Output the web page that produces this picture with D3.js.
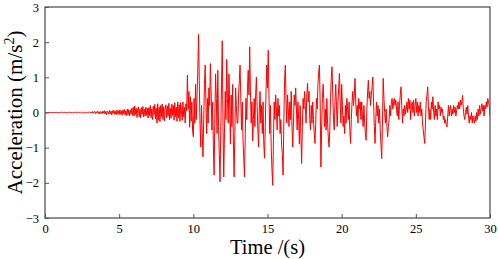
<!DOCTYPE html>
<html>
<head>
<meta charset="utf-8">
<script src="https://cdn.jsdelivr.net/npm/d3@7/dist/d3.min.js"></script>
<style>
  html, body { margin: 0; padding: 0; background: #fff; }
  svg { display: block; }
</style>
</head>
<body>
<svg id="chart" width="498" height="259"></svg>
<script>
// ---- data ----
const timeStep = 0.05;           // s between samples
const timeStart = 0;
const xTicks = [0, 5, 10, 15, 20, 25, 30];
const yTicks = [-3, -2, -1, 0, 1, 2, 3];
const xTitle = "Time /(s)";
const yTitle = "Acceleration (m/s";
const yTitleSup = "2";
// acceleration (m/s^2), one row per second (20 samples each)
const acceleration = [
  0,0,0,0,0,0,0,0,0,0,0,0,0,0,0,0,0,0,0,0,
  0,0,0.01,0,-0.01,0,0,0.01,0,0,-0.01,0,0,0.01,0,0,0,-0.01,0,0,
  0,0.01,0,-0.01,0,0.01,0,0,-0.01,0.01,0,0,-0.01,0,0.01,0,-0.01,0,0.01,0,
  0.02,-0.01,0.01,-0.02,0.03,-0.02,0.01,0.03,-0.03,0.02,-0.01,0.04,-0.03,0.02,-0.04,0.03,0.01,-0.03,0.04,-0.02,
  0.05,-0.04,0.03,-0.06,0.04,0.02,-0.05,0.06,-0.03,0.04,-0.07,0.05,-0.02,0.06,-0.05,0.03,-0.06,0.07,-0.04,0.05,
  -0.06,0.08,-0.05,0.04,-0.08,0.07,-0.03,0.09,-0.07,0.05,-0.09,0.1,-0.06,0.08,-0.1,0.06,-0.04,0.12,-0.08,0.15,
  -0.1,0.18,-0.06,0.12,-0.14,0.08,0.16,-0.12,0.1,-0.15,0.14,-0.05,0.17,-0.13,0.09,-0.1,0.15,-0.08,0.12,-0.16,
  0.14,-0.09,0.2,-0.15,0.1,-0.2,0.18,-0.06,0.23,-0.18,0.12,-0.3,0.25,-0.22,0.15,-0.26,0.2,-0.12,0.24,-0.2,
  0.16,-0.24,0.1,0.22,-0.15,0.18,-0.1,0.26,-0.2,0.12,-0.16,0.24,-0.08,0.2,-0.22,0.28,-0.12,0.15,-0.25,0.3,
  -0.15,0.22,-0.25,0.28,0.02,-0.22,0.3,-0.12,0.15,-0.3,0.25,0.05,1.06,0.1,0.6,-0.42,0.45,-0.25,0.3,-0.5,
  -0.69,0.4,-0.3,0.8,-0.2,0.5,1.2,2.22,0.9,-0.3,-0.98,0.2,-0.6,-1.26,-0.2,0.8,1.35,0.3,-0.6,0.4,
  -0.3,0.7,0.2,1.39,0.6,-0.5,0.3,-0.9,-1.78,-0.2,1.1,0.4,-0.6,1.2,-0.4,-1.2,-1.97,-0.5,0.8,2.04,
  -0.4,-1.83,-0.6,0.6,-0.2,1.51,0.4,-0.3,1.1,0.2,-0.9,0.5,-0.4,0.8,-0.8,-1.83,-0.6,0.7,0.2,-0.3,
  -0.3,0.5,0.9,1.35,0.4,-0.5,0.3,-0.8,-1.3,-1.83,-0.6,0.4,-0.2,0.7,1.2,0.5,1.87,0.6,-0.3,0.3,
  -0.8,-0.2,0.4,-0.4,0.5,1.01,0.2,-0.5,-0.98,0.1,0.6,-0.3,0.2,-0.6,0.3,-0.9,-1.3,-0.4,0.6,1.35,
  0.7,1.77,0.5,-0.6,0.2,-1.0,-1.6,-2.07,-0.8,0.3,-0.2,0.5,0.1,-0.5,0.4,-0.1,0.2,-0.6,-0.2,-0.9,
  -1.2,-1.78,-0.3,0.9,1.35,0.4,-0.3,0.5,0.1,-0.4,0.3,-0.2,0.6,-0.4,-0.98,-0.3,0.5,0.2,0.7,0.1,
  -0.5,0.3,-0.2,-0.9,0.2,-0.6,-1.45,-0.4,0.4,0.1,0.6,0.2,-0.3,0.5,0.83,0.3,0.6,-0.2,-0.5,0.2,
  -0.3,0.3,-0.2,-0.6,-0.88,-0.3,0.4,0.1,0.8,1.15,1.35,0.3,-1.55,-0.5,0.4,0.8,0.3,-0.4,0.1,-0.5,
  0.4,-0.3,-0.7,-0.98,-0.5,0.4,1.0,1.3,0.5,-0.2,-0.5,0.3,0.8,0.2,-0.4,0.3,0.7,1.11,0.3,-0.3,
  0.8,0.2,-0.4,-0.1,-0.6,0.2,-0.3,0.4,0.1,-0.2,0.3,-0.5,-0.88,-0.2,0.3,0.6,0.2,0.5,0.97,0.3,
  -0.1,0.2,-0.3,0.4,0.1,0.3,-0.2,0.3,-0.1,-0.4,0.2,-0.3,-0.6,-0.79,0.1,0.6,0.92,0.4,0.6,0.2,
  0.5,0.7,1.01,0.3,-0.4,-0.88,-0.2,0.3,-0.1,0.2,-0.3,0.1,-0.5,-0.9,-1.31,-0.3,0.97,0.4,0.0,-0.3,
  0.1,-0.4,-0.69,-0.4,-0.2,0.2,-0.1,0.3,0.4,0.1,0.3,0.4,0.2,0.35,0.1,-0.1,0.3,-0.2,0.2,0.5,
  0.73,0.2,-0.3,0.1,-0.1,0.2,-0.05,0.1,0.3,0.0,0.4,0.1,0.35,-0.2,0.2,0.3,0.0,0.35,-0.1,0.2,
  0.4,0.0,0.3,-0.1,0.2,0.0,0.3,-0.1,0.1,-0.3,-0.5,-0.7,-0.88,-0.3,0.3,0.5,0.73,0.2,-0.2,0.1,
  -0.2,0.3,0.1,0.45,0.0,-0.2,0.2,-0.1,0.1,-0.2,0.3,0.1,0.2,-0.1,0.15,0.0,0.1,-0.2,-0.1,-0.3,
  -0.2,-0.35,-0.41,-0.1,0.2,-0.1,0.1,0.2,-0.1,0.1,-0.05,0.2,0.0,0.15,-0.1,0.05,0.2,0.1,0.3,0.1,
  0.35,0.2,0.3,0.49,0.1,-0.1,-0.2,0.0,0.15,-0.05,0.2,-0.1,-0.3,-0.1,-0.2,0.0,-0.3,-0.1,-0.2,-0.3,
  -0.1,-0.25,0.0,-0.2,0.1,-0.1,0.2,-0.05,0.1,0.25,0.05,0.2,-0.1,0.2,0.1,0.3,0.15,0.4,0.3,0.2,
  -0.1
];

// ---- layout ----
const W = 498, H = 259;
const margin = { left: 45, right: 8, top: 7, bottom: 41 };
const iw = W - margin.left - margin.right;
const ih = H - margin.top - margin.bottom;
const axisColor = "#555";
const serif = "'Liberation Serif', 'Times New Roman', serif";

const svg = d3.select("#chart");
const g = svg.append("g").attr("transform", `translate(${margin.left},${margin.top})`);

const x = d3.scaleLinear().domain([0, 30]).range([0, iw]);
const y = d3.scaleLinear().domain([-3, 3]).range([ih, 0]);

const data = acceleration.map((v, i) => ({ t: timeStart + i * timeStep, a: v }));

// clip
svg.append("defs").append("clipPath").attr("id", "clip")
  .append("rect").attr("width", iw).attr("height", ih);

// line
g.append("path")
  .datum(data)
  .attr("clip-path", "url(#clip)")
  .attr("fill", "none")
  .attr("stroke", "#ff0000")
  .attr("stroke-width", 1)
  .attr("stroke-linejoin", "round")
  .attr("d", d3.line().x(d => x(d.t)).y(d => y(d.a)));

// axes (ticks pointing inward)
const xAxis = g.append("g").attr("transform", `translate(0,${ih})`)
  .call(d3.axisBottom(x).tickValues(xTicks).tickSizeInner(-4).tickSizeOuter(0).tickPadding(6).tickFormat(d3.format("d")));
const yAxis = g.append("g")
  .call(d3.axisLeft(y).tickValues(yTicks).tickSizeInner(-4).tickSizeOuter(0).tickPadding(6).tickFormat(d3.format("d")));

[xAxis, yAxis].forEach(ax => {
  ax.select(".domain").remove();
  ax.selectAll(".tick line").attr("stroke", axisColor).attr("stroke-width", 1);
  ax.selectAll(".tick text").attr("fill", "#000").style("font-family", serif).style("font-size", "12.5px");
});

// frame
g.append("rect").attr("width", iw).attr("height", ih)
  .attr("fill", "none").attr("stroke", axisColor).attr("stroke-width", 1.3);

// titles
svg.append("text")
  .attr("x", margin.left + iw / 2).attr("y", 254)
  .attr("text-anchor", "middle")
  .style("font-family", serif).style("font-size", "20.5px")
  .text(xTitle);

const yt = svg.append("text")
  .attr("transform", `translate(22,${margin.top + ih / 2}) rotate(-90)`)
  .attr("text-anchor", "middle")
  .style("font-family", serif).style("font-size", "21px");
yt.append("tspan").text(yTitle);
yt.append("tspan").attr("dy", -8).style("font-size", "14px").text(yTitleSup);
yt.append("tspan").attr("dy", 8).text(")");
</script>
</body>
</html>
